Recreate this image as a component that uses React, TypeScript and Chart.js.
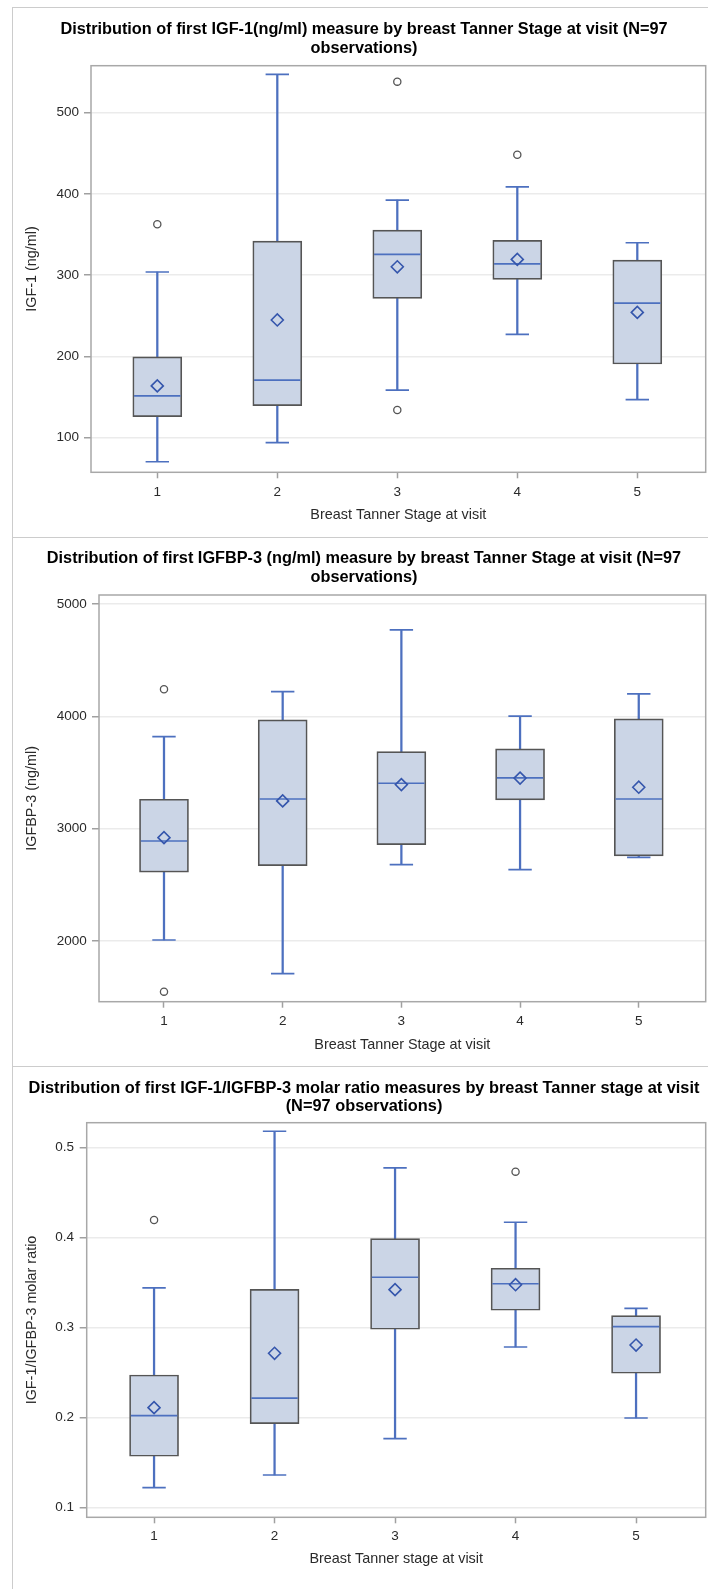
import React, { useEffect, useRef } from "react";
import { Chart, registerables } from "chart.js";

Chart.register(...registerables);

// ---------- data ----------
const stages = [1, 2, 3, 4, 5];
const stageTicks = [1, 2, 3, 4, 5];

// Panel 1: IGF-1 (ng/ml)
const igfTicks = [100, 200, 300, 400, 500];
const igfLow = [70.4, 93.9, 158.6, 227.1, 146.7];
const igfQ1 = [125.8, 139.3, 271.3, 294.7, 190.6];
const igfMedian = [151.3, 170.9, 325.4, 313.9, 265.6];
const igfQ3 = [199.3, 341.9, 355.4, 342.7, 318.4];
const igfHigh = [303.8, 547, 392.3, 408.6, 339.8];
const igfMean = [163.7, 244.8, 310.2, 319.3, 254.1];
const igfOutlierStage = [1, 3, 3, 4];
const igfOutlierValue = [362.5, 538, 134, 448];

// Panel 2: IGFBP-3 (ng/ml)
const bp3Ticks = [2000, 3000, 4000, 5000];
const bp3Low = [2009, 1709, 2679, 2635, 2745];
const bp3Q1 = [2612, 2671, 2858, 3256, 2757];
const bp3Median = [2890, 3264, 3404, 3452, 3264];
const bp3Q3 = [3262, 3968, 3686, 3710, 3977];
const bp3High = [3819, 4220, 4769, 4001, 4200];
const bp3Mean = [2920, 3247, 3392, 3450, 3369];
const bp3OutlierStage = [1, 1];
const bp3OutlierValue = [4241, 1549];

// Panel 3: IGF-1/IGFBP-3 molar ratio
const ratioTicks = [0.1, 0.2, 0.3, 0.4, 0.5];
const ratioLow = [0.1218, 0.1359, 0.1763, 0.2781, 0.1992];
const ratioQ1 = [0.1567, 0.1929, 0.2978, 0.3189, 0.2489];
const ratioMedian = [0.2018, 0.2214, 0.3556, 0.3484, 0.3007];
const ratioQ3 = [0.247, 0.3422, 0.3985, 0.3656, 0.3129];
const ratioHigh = [0.3437, 0.5178, 0.477, 0.4167, 0.3211];
const ratioMean = [0.2107, 0.2711, 0.3418, 0.3473, 0.2803];
const ratioOutlierStage = [1, 4];
const ratioOutlierValue = [0.4192, 0.4729];

const title1 = ["Distribution of first IGF-1(ng/ml) measure by breast Tanner Stage at visit (N=97", "observations)"];
const title2 = ["Distribution of first IGFBP-3 (ng/ml) measure by breast Tanner Stage at visit (N=97", "observations)"];
const title3 = ["Distribution of first IGF-1/IGFBP-3 molar ratio measures by breast Tanner stage at visit", "(N=97 observations)"];

// ---------- style ----------
const FONT = "'Liberation Sans', Arial, Helvetica, sans-serif";
const BOX_FILL = "#cbd5e6";
const BOX_EDGE = "#555555";
const BLUE = "#4d70bf";
const MEAN_BLUE = "#3556ac";
const OUTLIER = "#555555";
const GRID = "#ebebeb";
const FRAME = "#a8a8a8";
const TICKMARK = "#a0a0a0";
const TEXT = "#2a2a2a";

type Panel = {
  top: number;
  height: number;
  title: string[];
  titleLH: number;
  titlePadTop: number;
  titlePadBottom: number;
  yTitle: string;
  xTitle: string;
  yMin: number;
  yMax: number;
  yTicks: number[];
  xMin: number;
  xMax: number;
  yWidth: number;
  yTitlePad: number;
  yTickPad: number;
  xHeight: number;
  xTickPad: number;
  xTitlePadBottom: number;
  low: number[];
  q1: number[];
  median: number[];
  q3: number[];
  high: number[];
  mean: number[];
  outStage: number[];
  outValue: number[];
};

const panels: Panel[] = [
  {
    top: 7, height: 530, title: title1, titleLH: 19, titlePadTop: 12.8, titlePadBottom: 7.9,
    yTitle: "IGF-1 (ng/ml)", xTitle: "Breast Tanner Stage at visit",
    yMin: 57.4, yMax: 557.6, yTicks: igfTicks, xMin: 0.4475, xMax: 5.57,
    yWidth: 68.7, yTitlePad: 1, yTickPad: 5, xHeight: 64.7, xTickPad: 5.4, xTitlePadBottom: 13.6,
    low: igfLow, q1: igfQ1, median: igfMedian, q3: igfQ3, high: igfHigh, mean: igfMean,
    outStage: igfOutlierStage, outValue: igfOutlierValue,
  },
  {
    top: 537, height: 529, title: title2, titleLH: 19, titlePadTop: 12.5, titlePadBottom: 7.5,
    yTitle: "IGFBP-3 (ng/ml)", xTitle: "Breast Tanner Stage at visit",
    yMin: 1459.6, yMax: 5080, yTicks: bp3Ticks, xMin: 0.4524, xMax: 5.564,
    yWidth: 76.7, yTitlePad: 1, yTickPad: 5.3, xHeight: 64.3, xTickPad: 5.7, xTitlePadBottom: 12.6,
    low: bp3Low, q1: bp3Q1, median: bp3Median, q3: bp3Q3, high: bp3High, mean: bp3Mean,
    outStage: bp3OutlierStage, outValue: bp3OutlierValue,
  },
  {
    top: 1066, height: 523, title: title3, titleLH: 18, titlePadTop: 13.8, titlePadBottom: 6.9,
    yTitle: "IGF-1/IGFBP-3 molar ratio", xTitle: "Breast Tanner stage at visit",
    yMin: 0.0889, yMax: 0.5273, yTicks: ratioTicks, xMin: 0.441, xMax: 5.578,
    yWidth: 64.4, yTitlePad: 1, yTickPad: 5.7, xHeight: 71.7, xTickPad: 5.3, xTitlePadBottom: 21.3,
    low: ratioLow, q1: ratioQ1, median: ratioMedian, q3: ratioQ3, high: ratioHigh, mean: ratioMean,
    outStage: ratioOutlierStage, outValue: ratioOutlierValue,
  },
];

const framePlugin = {
  id: "plotFrame",
  beforeDatasetsDraw(chart: any) {
    const { ctx, chartArea: a } = chart;
    ctx.save();
    ctx.strokeStyle = FRAME;
    ctx.lineWidth = 1.5;
    ctx.strokeRect(a.left, a.top, a.right - a.left, a.bottom - a.top);
    ctx.restore();
  },
};

function BoxChart({ p }: { p: Panel }) {
  const ref = useRef<HTMLCanvasElement | null>(null);

  useEffect(() => {
    if (!ref.current) return;
    const boxes = stages.map((s, i) => ({ x: s, y: [p.q1[i], p.q3[i]] }));
    const upperWhiskers = stages.map((s, i) => ({ x: s, y: [p.q3[i], p.high[i]] }));
    const lowerWhiskers = stages.map((s, i) => ({ x: s, y: [p.low[i], p.q1[i]] }));
    const caps = [
      ...stages.map((s, i) => ({ x: s, y: p.high[i] })),
      ...stages.map((s, i) => ({ x: s, y: p.low[i] })),
    ];
    const medians = stages.map((s, i) => ({ x: s, y: p.median[i] }));
    const means = stages.map((s, i) => ({ x: s, y: p.mean[i] }));
    const outliers = p.outStage.map((s, i) => ({ x: s, y: p.outValue[i] }));

    const tickFont = { family: FONT, size: 13.5 };
    const axisTitleFont = { family: FONT, size: 14.4 };
    const titleSize = p.title === title3 ? 16.35 : 16.3;

    const chart = new Chart(ref.current, {
      type: "bar",
      data: {
        datasets: [
          {
            type: "scatter",
            data: outliers,
            pointStyle: "circle",
            pointRadius: 3.6,
            pointBorderWidth: 1.3,
            pointBorderColor: OUTLIER,
            pointBackgroundColor: "rgba(255,255,255,0)",
            order: 0,
          } as any,
          {
            type: "scatter",
            data: means,
            pointStyle: "rectRot",
            pointRadius: 6,
            pointBorderWidth: 1.6,
            pointBorderColor: MEAN_BLUE,
            pointBackgroundColor: "rgba(255,255,255,0)",
            order: 1,
          } as any,
          {
            type: "scatter",
            data: medians,
            pointStyle: "line",
            pointRadius: 23.2,
            pointBorderWidth: 1.7,
            pointBorderColor: BLUE,
            order: 2,
          } as any,
          {
            type: "scatter",
            data: caps,
            pointStyle: "line",
            pointRadius: 11.7,
            pointBorderWidth: 1.7,
            pointBorderColor: BLUE,
            order: 3,
          } as any,
          {
            type: "bar",
            data: boxes,
            backgroundColor: BOX_FILL,
            borderColor: BOX_EDGE,
            borderWidth: 1.7,
            borderSkipped: false,
            barThickness: 49,
            grouped: false,
            order: 4,
          } as any,
          {
            type: "bar",
            data: upperWhiskers,
            backgroundColor: BLUE,
            borderWidth: 0,
            barThickness: 1.6,
            grouped: false,
            order: 5,
          } as any,
          {
            type: "bar",
            data: lowerWhiskers,
            backgroundColor: BLUE,
            borderWidth: 0,
            barThickness: 1.6,
            grouped: false,
            order: 5,
          } as any,
        ],
      },
      options: {
        animation: false,
        responsive: false,
        maintainAspectRatio: false,
        devicePixelRatio: 1,
        events: [],
        layout: { autoPadding: false, padding: { left: 22.3, right: 2.3, top: 0, bottom: 0 } },
        plugins: {
          legend: { display: false },
          tooltip: { enabled: false },
          title: {
            display: true,
            text: p.title,
            color: "#000",
            font: { family: FONT, size: titleSize, weight: "bold", lineHeight: p.titleLH + "px" },
            padding: { top: p.titlePadTop, bottom: p.titlePadBottom },
          },
        },
        scales: {
          x: {
            type: "linear",
            min: p.xMin,
            max: p.xMax,
            offset: false,
            afterBuildTicks: (s: any) => {
              s.ticks = stageTicks.map((v) => ({ value: v }));
            },
            afterFit: (s: any) => {
              s.height = p.xHeight;
            },
            ticks: {
              padding: p.xTickPad,
              color: TEXT,
              font: tickFont,
              maxRotation: 0,
              autoSkip: false,
              callback: (v: any) => String(v),
            },
            grid: { offset: false, drawOnChartArea: false, drawTicks: true, tickLength: 6, tickColor: TICKMARK, tickWidth: 1.5 },
            border: { display: false },
            title: {
              display: true,
              text: p.xTitle,
              color: TEXT,
              font: axisTitleFont,
              padding: { top: 0, bottom: p.xTitlePadBottom },
            },
          },
          y: {
            type: "linear",
            min: p.yMin,
            max: p.yMax,
            beginAtZero: false,
            afterBuildTicks: (s: any) => {
              s.ticks = p.yTicks.map((v) => ({ value: v }));
            },
            afterFit: (s: any) => {
              s.width = p.yWidth;
            },
            ticks: {
              padding: p.yTickPad,
              color: TEXT,
              font: tickFont,
              autoSkip: false,
              callback: (v: any) => String(v),
            },
            grid: { color: GRID, lineWidth: 1.5, tickLength: 7, tickColor: TICKMARK, tickWidth: 1.5 },
            border: { display: false },
            title: {
              display: true,
              text: p.yTitle,
              color: TEXT,
              font: axisTitleFont,
              padding: { top: p.yTitlePad, bottom: 0 },
            },
          },
        },
      } as any,
      plugins: [framePlugin],
    });
    return () => chart.destroy();
  }, [p]);

  return (
    <canvas
      ref={ref}
      width={708}
      height={p.height}
      style={{ position: "absolute", left: 0, top: p.top, width: 708, height: p.height, display: "block" }}
    />
  );
}

export default function App() {
  return (
    <div
      style={{
        position: "absolute",
        left: 0,
        top: 0,
        width: 708,
        height: 1589,
        overflow: "hidden",
        background: "#ffffff",
      }}
    >
      {panels.map((p, i) => (
        <div
          key={"b" + i}
          style={{
            position: "absolute",
            left: 12,
            top: p.top,
            width: 712,
            height: i === 2 ? 600 : p.height + 1,
            border: "1px solid #cccccc",
            boxSizing: "border-box",
          }}
        />
      ))}
      {panels.map((p, i) => (
        <BoxChart key={"c" + i} p={p} />
      ))}
    </div>
  );
}
